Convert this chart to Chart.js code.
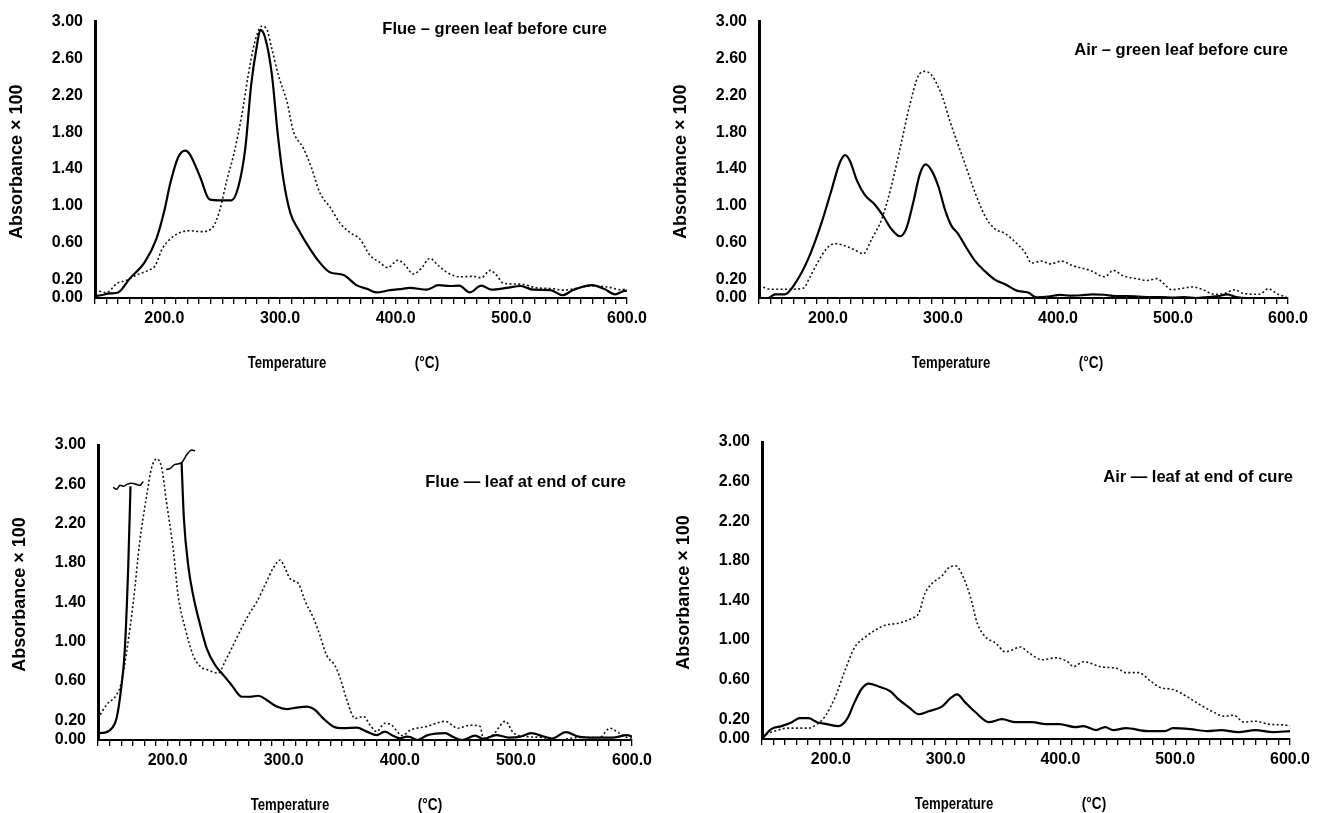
<!DOCTYPE html>
<html><head><meta charset="utf-8">
<script src="https://cdn.jsdelivr.net/npm/chart.js@4.4.1/dist/chart.umd.min.js"></script>
<style>
html,body{margin:0;padding:0;background:#fff;}
#wrap{position:relative;width:1333px;height:813px;overflow:hidden;background:#fff;}
canvas{position:absolute;}
</style></head><body><div id="wrap">
<canvas id="c0" width="666" height="400" style="left:0;top:0"></canvas>
<canvas id="c1" width="667" height="400" style="left:666px;top:0"></canvas>
<canvas id="c2" width="666" height="413" style="left:0;top:400px"></canvas>
<canvas id="c3" width="667" height="413" style="left:666px;top:400px"></canvas>
</div>
<script>
// ---------- tick labels ----------
const yTickValues = [0, 0.2, 0.6, 1.0, 1.4, 1.8, 2.2, 2.6, 3.0];
const xMin = 140, xMax = 600, xMinorStep = 10;
const xLabelledTicks = [200, 300, 400, 500, 600];

// ---------- panel titles ----------
const panelTitles = ["Flue \u2013 green leaf before cure", "Air \u2013 green leaf before cure",
                     "Flue \u2014 leaf at end of cure", "Air \u2014 leaf at end of cure"];

// ---------- Flue, green leaf before cure ----------
const flueGreenSolidT = [140,145,153,160,170,183,193,200,205,212,218,222,231,239,248,258,264,270,275,280,283,287,293,298,303,309,316,326,334,343,355,366,375,383,395,406,412,427,437,447,455,464,474,483,496,508,519,534,544,554,570,580,590,596,600];
const flueGreenSolidA = [0.02,0.03,0.05,0.06,0.21,0.39,0.64,0.95,1.24,1.53,1.60,1.56,1.31,1.07,1.06,1.06,1.21,1.63,2.31,2.74,2.91,2.83,2.42,1.78,1.28,0.92,0.74,0.53,0.39,0.28,0.25,0.14,0.10,0.06,0.085,0.10,0.11,0.09,0.14,0.13,0.135,0.06,0.135,0.09,0.11,0.13,0.09,0.085,0.03,0.09,0.14,0.10,0.04,0.07,0.08];
const flueGreenDotT = [140,150,159,167,176,186,192,198,205,213.5,222,232,242,248,254,260,267,272.5,278,284,288,293,298.5,306,311.5,320,327,334.5,343,352,360.5,369,378,386,393,402,408,415,422,429.5,437,444,455.5,467,474,481.6,487.4,493,508,522,537,544,554,569,583,595,600];
const flueGreenDotA = [0.085,0.06,0.16,0.19,0.25,0.30,0.35,0.53,0.64,0.71,0.73,0.72,0.77,0.96,1.28,1.56,1.99,2.42,2.77,2.95,2.93,2.70,2.42,2.13,1.81,1.63,1.42,1.14,0.99,0.81,0.71,0.64,0.46,0.39,0.33,0.41,0.36,0.26,0.32,0.43,0.35,0.28,0.23,0.235,0.22,0.30,0.245,0.16,0.15,0.11,0.10,0.085,0.10,0.13,0.12,0.09,0.10];

// ---------- Air, green leaf before cure ----------
const airGreenSolidT = [140,148,154,162.6,171,183,194.5,203,210,214.8,219,225,232,241,248,255,262.6,268,274,280,285,290,296,301.7,307.5,313,320.6,328,336.5,345,354,364,374,381.4,391.6,401.7,410,420,430,440,450,460,470,480,490,500,510,520,530,540,547,555,565,580,600];
const airGreenSolidA = [0.0,0.0,0.04,0.04,0.15,0.43,0.82,1.17,1.46,1.55,1.49,1.28,1.12,1.01,0.89,0.75,0.67,0.75,1.03,1.35,1.45,1.385,1.21,0.96,0.78,0.70,0.54,0.40,0.29,0.20,0.15,0.08,0.06,0.007,0.014,0.035,0.025,0.03,0.04,0.035,0.02,0.02,0.015,0.01,0.01,0.005,0.01,0.0,0.01,0.02,0.04,0.01,0.0,0.0,0.0];
const airGreenDotT = [140,151,165.5,178.5,184,191.6,199,206,215,223.5,230.7,238,246.7,255,264,271,278.5,284,290,299,306,313,319,328,336.5,345,354,362.6,371,377,385.8,393,403,413,427.8,440.8,448,456.8,468.4,477,485.8,491.6,498.8,506,517.6,526,536,545,553.7,561,575.5,582.7,591.4,598.6];
const airGreenDotA = [0.13,0.095,0.095,0.106,0.22,0.40,0.54,0.59,0.565,0.52,0.48,0.64,0.855,1.21,1.70,2.09,2.41,2.46,2.42,2.20,1.92,1.67,1.46,1.14,0.89,0.75,0.70,0.61,0.50,0.38,0.40,0.37,0.40,0.35,0.30,0.23,0.30,0.24,0.21,0.19,0.21,0.16,0.09,0.10,0.12,0.09,0.04,0.05,0.09,0.05,0.04,0.10,0.04,0.01];

// ---------- Flue, leaf at end of cure ----------
const flueEndSolidT = [140,146,152,156,160,163,166,168,190,212,214,218,222,228,233.7,241,248,255,264,271,278,285,294,302.6,311,320,327,334,343,351.5,363,371.6,380,387,394.6,400,406,409,415,424,439,446,454,465,472,483,494,504,513,524,531,543,554,568,583,596,600];
const flueEndSolidA = [0.07,0.075,0.12,0.22,0.53,0.90,1.75,2.58,null,2.82,2.25,1.75,1.47,1.17,0.93,0.76,0.66,0.56,0.44,0.44,0.45,0.41,0.34,0.315,0.33,0.34,0.305,0.22,0.135,0.12,0.125,0.085,0.05,0.085,0.04,0.017,0.034,0.03,0.0,0.05,0.07,0.03,0.0,0.045,0.01,0.05,0.025,0.035,0.07,0.035,0.015,0.08,0.035,0.025,0.025,0.05,0.035];
const flueEndOffscaleT = [153,156,159,162,165,169,173,176,179,190,198.6,202,206,212,216.4,220.7,223.6];
const flueEndOffscaleA = [2.57,2.55,2.59,2.58,2.60,2.61,2.60,2.59,2.63,null,2.75,2.76,2.80,2.82,2.90,2.95,2.94];
const flueEndDotT = [140,147.5,156,160,164.7,170.5,176,182,186,190.6,195,199,205,209,215,222,228,235,243.7,249.5,255,262,269.6,277,284,291,297,301,305.5,312.7,318.5,325.6,331,337,344,348.6,354,361.5,368.7,374.5,380,387,393,399,402,409,424,439,450,461,469,472,480,491,498,509,524,535,554,572,581,589,598,600];
const flueEndDotA = [0.22,0.36,0.46,0.58,0.90,1.41,2.02,2.49,2.76,2.86,2.76,2.42,1.92,1.47,1.14,0.86,0.75,0.71,0.68,0.80,0.93,1.10,1.27,1.41,1.58,1.75,1.83,1.75,1.64,1.59,1.41,1.24,1.07,0.86,0.76,0.63,0.42,0.22,0.24,0.15,0.085,0.17,0.15,0.07,0.045,0.10,0.14,0.19,0.12,0.15,0.14,0.02,0.05,0.19,0.07,0.035,0.025,0.0,0.025,0.025,0.12,0.07,0.02,0.02];

// ---------- Air, leaf at end of cure ----------
const airEndSolidT = [140,148,157,166,173,180.5,188,196.5,206.7,214,221,227,233,241.6,252,259,268,276.5,285,297,304,310,317,326,337.7,349,361,375.5,387,399,413,420,431,439,446,457,476,491,498,513,528,540,555,570,585,600];
const airEndSolidA = [0.0,0.10,0.13,0.17,0.21,0.21,0.17,0.15,0.13,0.20,0.38,0.51,0.56,0.53,0.48,0.40,0.32,0.25,0.28,0.33,0.41,0.45,0.37,0.27,0.17,0.20,0.17,0.17,0.15,0.15,0.12,0.13,0.09,0.12,0.09,0.11,0.08,0.08,0.11,0.10,0.08,0.09,0.07,0.09,0.07,0.08];
const airEndDotT = [140,151,163,172,180.5,188,195,204,212.5,221,230,238.7,247.4,259,270.7,276.5,282,288,297,302.7,308.5,314,321.7,327.5,334.8,343.5,352,358,365,372.6,384,396,407.5,411,420,435,450,457,468,479,487,498,510,521,532,543,551,560,570,581,596,600];
const airEndDotA = [0.03,0.08,0.11,0.11,0.11,0.15,0.23,0.43,0.70,0.93,1.03,1.10,1.15,1.17,1.22,1.27,1.47,1.57,1.65,1.73,1.75,1.67,1.43,1.17,1.03,0.97,0.88,0.90,0.93,0.87,0.80,0.82,0.77,0.73,0.78,0.73,0.71,0.67,0.67,0.58,0.52,0.50,0.43,0.35,0.28,0.23,0.24,0.17,0.18,0.15,0.14,0.13];

// ---------- rendering ----------
const FONT = '"Liberation Sans", Arial, Helvetica, sans-serif';
const pts = (T, A) => T.map((t, i) => ({x: t, y: A[i]}));
const solid = (T, A, w) => ({data: pts(T, A), borderColor: '#000', borderWidth: w || 2.2, pointRadius: 0, spanGaps: false, cubicInterpolationMode: 'monotone'});
const dotted = (T, A) => ({data: pts(T, A), borderColor: '#111', borderWidth: 1.6, borderDash: [2, 2.4], pointRadius: 0, spanGaps: false, cubicInterpolationMode: 'monotone'});

function condensedText(ctx, text, x, y, sx) {
  ctx.save();
  ctx.translate(x, y);
  ctx.scale(sx, 1);
  ctx.fillText(text, 0, 0);
  ctx.restore();
}

const panelText = {
  id: 'panelText',
  afterDraw(chart, args, o) {
    const {ctx, chartArea: a} = chart;
    ctx.save();
    ctx.fillStyle = '#000';
    ctx.textBaseline = 'middle';
    ctx.font = 'bold 16.5px ' + FONT;
    ctx.textAlign = 'right';
    ctx.fillText(o.title, a.right + o.tx, a.top + o.ty);
    ctx.font = 'bold 16px ' + FONT;
    ctx.textAlign = 'center';
    condensedText(ctx, 'Temperature', a.left + 192, a.bottom + 66, 0.82);
    condensedText(ctx, '(\u00B0C)', a.left + 332, a.bottom + 66, 0.85);
    ctx.translate(a.left - 78, (a.top + a.bottom) / 2 + 2);
    ctx.rotate(-Math.PI / 2);
    ctx.font = 'bold 18px ' + FONT;
    ctx.fillText('Absorbance \u00D7 100', 0, 0);
    ctx.restore();
  }
};
Chart.register(panelText);

function makePanel(id, box, area, title, tx, ty, datasets) {
  const xTicks = [];
  for (let v = xMin; v <= xMax; v += xMinorStep) xTicks.push(v);
  new Chart(document.getElementById(id), {
    type: 'line',
    data: {datasets},
    options: {
      responsive: false, animation: false, events: [],
      layout: {padding: {top: area.top - box.y, right: box.x + box.w - area.right, left: 0, bottom: 0}},
      plugins: {legend: {display: false}, tooltip: {enabled: false}, panelText: {title, tx, ty}},
      scales: {
        x: {
          type: 'linear', min: xMin, max: xMax,
          afterFit: s => { s.height = box.y + box.h - area.bottom; },
          afterBuildTicks: s => { s.ticks = xTicks.map(v => ({value: v})); },
          ticks: {autoSkip: false, maxRotation: 0, color: '#000', padding: 5,
                  font: {family: FONT, size: 16, weight: 'bold'},
                  callback: v => xLabelledTicks.includes(v) ? v.toFixed(1) : ''},
          grid: {display: true, drawOnChartArea: false, drawTicks: true, tickLength: 6, color: '#000', lineWidth: 1.3},
          border: {display: true, color: '#000', width: 2}
        },
        y: {
          type: 'linear', min: 0, max: 3,
          afterFit: s => { s.width = area.left - box.x; },
          afterBuildTicks: s => { s.ticks = yTickValues.map(v => ({value: v})); },
          ticks: {color: '#000', padding: 12, font: {family: FONT, size: 16, weight: 'bold'},
                  callback: v => v.toFixed(2)},
          grid: {display: false, drawTicks: false},
          border: {display: true, color: '#000', width: 3}
        }
      }
    }
  });
}

makePanel('c0', {x: 0, y: 0, w: 666, h: 400}, {left: 95, top: 17, right: 627, bottom: 298},
  panelTitles[0], -20, 8,
  [solid(flueGreenSolidT, flueGreenSolidA), dotted(flueGreenDotT, flueGreenDotA)]);
makePanel('c1', {x: 666, y: 0, w: 667, h: 400}, {left: 759, top: 16, right: 1288, bottom: 298},
  panelTitles[1], 0, 29,
  [solid(airGreenSolidT, airGreenSolidA), dotted(airGreenDotT, airGreenDotA)]);
makePanel('c2', {x: 0, y: 400, w: 666, h: 413}, {left: 98, top: 445, right: 632, bottom: 740},
  panelTitles[2], -6, 37,
  [solid(flueEndSolidT, flueEndSolidA), solid(flueEndOffscaleT, flueEndOffscaleA, 1.5), dotted(flueEndDotT, flueEndDotA)]);
makePanel('c3', {x: 666, y: 400, w: 667, h: 413}, {left: 762, top: 442, right: 1290, bottom: 739},
  panelTitles[3], 3, 35,
  [solid(airEndSolidT, airEndSolidA), dotted(airEndDotT, airEndDotA)]);
</script></body></html>
